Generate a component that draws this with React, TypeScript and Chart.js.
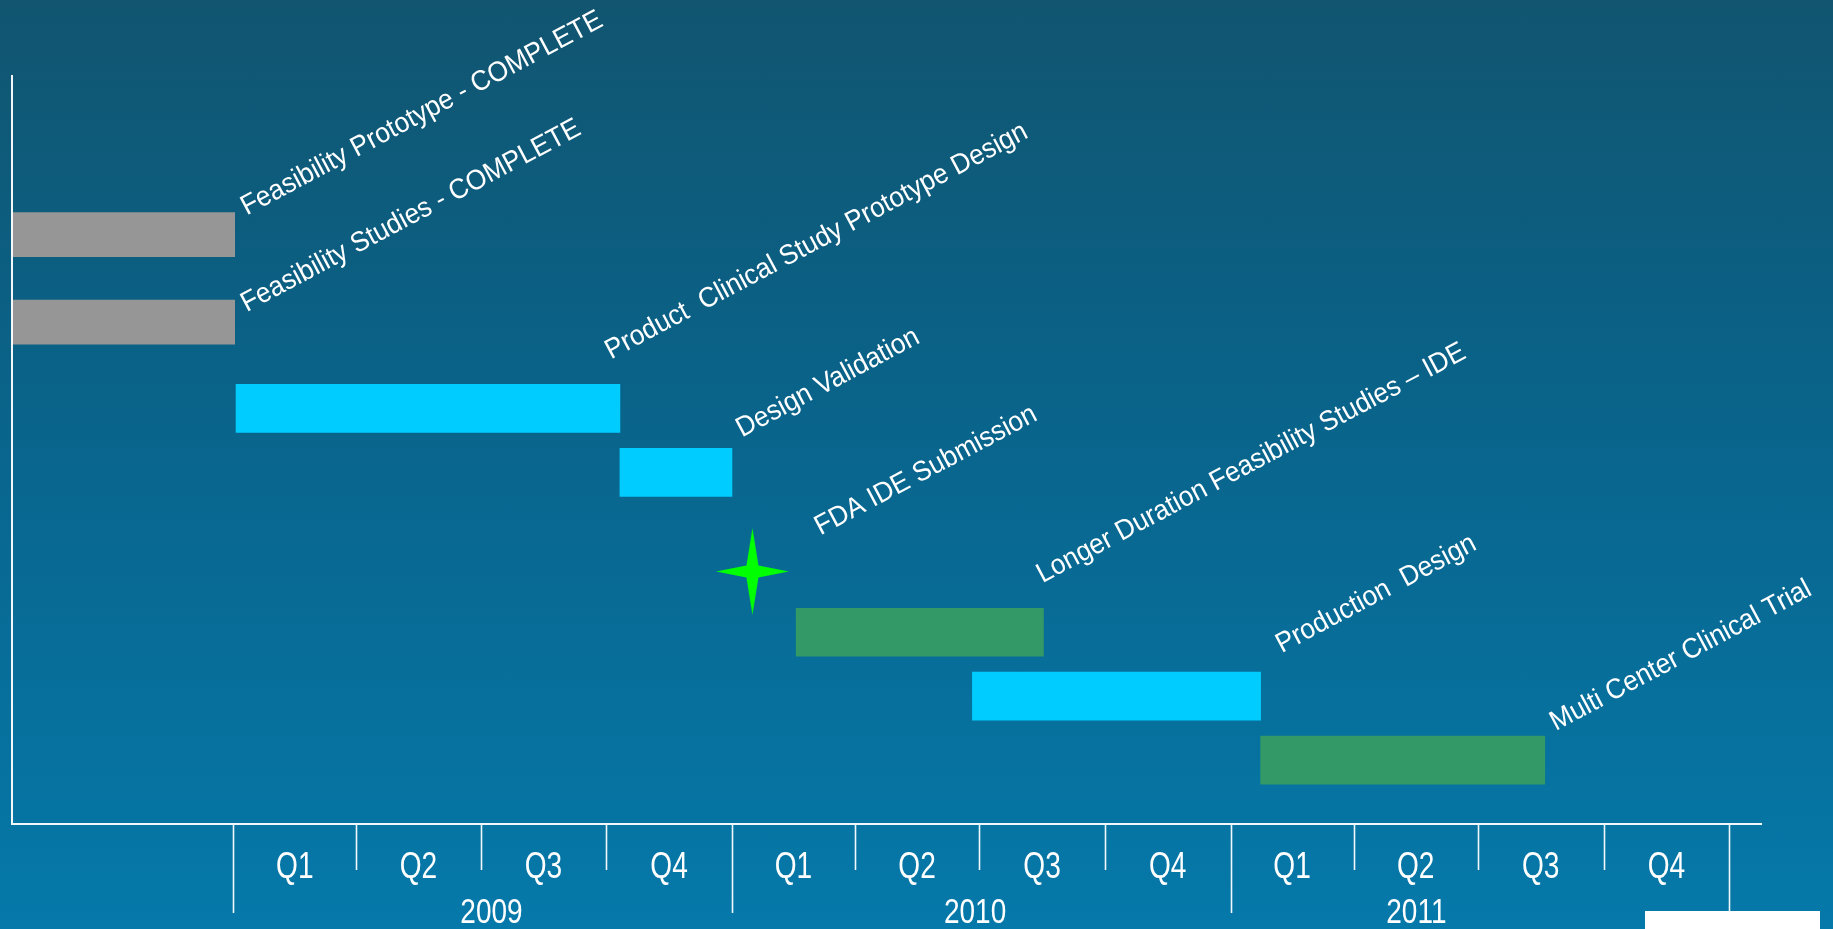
import React, { useEffect, useRef } from "react";
import { Chart, registerables } from "chart.js";

Chart.register(...registerables);

// ---------- data ----------
const axisStart = "2008-07-23";
const axisEnd = "2012-01-25";

const taskNames = [
  "Feasibility Prototype - COMPLETE",
  "Feasibility Studies - COMPLETE",
  "Product  Clinical Study Prototype Design",
  "Design Validation",
  "FDA IDE Submission",
  "Longer Duration Feasibility Studies \u2013 IDE",
  "Production  Design",
  "Multi Center Clinical Trial",
];
const taskStarts = [
  "2008-07-23",
  "2008-07-23",
  "2009-01-03",
  "2009-10-11",
  "2010-01-16",
  "2010-02-17",
  "2010-06-26",
  "2011-01-23",
];
const taskEnds = [
  "2009-01-02",
  "2009-01-02",
  "2009-10-11",
  "2010-01-01",
  "2010-01-16",
  "2010-08-17",
  "2011-01-23",
  "2011-08-19",
];
const taskLanes = [9.22, 7.85, 6.5, 5.5, 3.95, 3, 2, 1];
const taskKinds = ["complete", "complete", "design", "design", "milestone", "study", "design", "study"];

const quarterStarts = [
  "2009-01-01", "2009-04-01", "2009-07-01", "2009-10-01",
  "2010-01-01", "2010-04-01", "2010-07-01", "2010-10-01",
  "2011-01-01", "2011-04-01", "2011-07-01", "2011-10-01",
  "2012-01-01",
];
const quarterLabels = ["Q1", "Q2", "Q3", "Q4", "Q1", "Q2", "Q3", "Q4", "Q1", "Q2", "Q3", "Q4"];
const yearLabels = ["2009", "2010", "2011"];
const yearLabelAt = ["2009-07-09", "2010-06-28", "2011-05-17"];

// ---------- styles / layout ----------
const kindColors: Record<string, string> = {
  complete: "#969696",
  design: "#00ccff",
  study: "#339966",
  milestone: "#00ff00",
};
const kindThickness: Record<string, number> = { complete: 44, design: 48, study: 48 };
const labelNudge = [
  [12, -19],
  [12, -10],
  [-9, -49],
  [10, -35],
  [68, -36],
  [-1, -49],
  [21, -43],
  [11, -29],
];
const LABEL_ANGLE = 28;
const LABEL_SCALE_X = 0.94;
const FONT = '"Liberation Sans", Arial, sans-serif';

const dayOf = (iso: string) => {
  const [y, m, d] = iso.split("-").map(Number);
  return (Date.UTC(y, m - 1, d) - Date.UTC(2009, 0, 1)) / 86400000;
};

function makeStar(color: string) {
  const w = 73;
  const h = 87;
  const c = document.createElement("canvas");
  c.width = w;
  c.height = h;
  const g = c.getContext("2d")!;
  const cx = w / 2;
  const cy = h / 2;
  const r = 6;
  g.beginPath();
  g.moveTo(cx, 0);
  g.lineTo(cx + r, cy - r);
  g.lineTo(w, cy);
  g.lineTo(cx + r, cy + r);
  g.lineTo(cx, h);
  g.lineTo(cx - r, cy + r);
  g.lineTo(0, cy);
  g.lineTo(cx - r, cy - r);
  g.closePath();
  g.fillStyle = color;
  g.fill();
  return c;
}

const ganttDecor = {
  id: "ganttDecor",
  afterDraw(chart: any) {
    const { ctx, chartArea } = chart;
    const x = chart.scales.x;
    const y = chart.scales.y;
    ctx.save();

    // axis lines
    ctx.strokeStyle = "rgba(255,255,255,0.95)";
    ctx.lineWidth = 2;
    ctx.beginPath();
    ctx.moveTo(chartArea.left, chartArea.top - 1);
    ctx.lineTo(chartArea.left, chartArea.bottom);
    ctx.lineTo(chartArea.right, chartArea.bottom);
    ctx.stroke();

    // quarter / year tick lines
    ctx.lineWidth = 1.6;
    quarterStarts.forEach((q) => {
      const px = Math.round(x.getPixelForValue(dayOf(q))) + 0.5;
      const isYear = q.slice(5, 7) === "01";
      ctx.beginPath();
      ctx.moveTo(px, chartArea.bottom);
      ctx.lineTo(px, chartArea.bottom + (isYear ? 89 : 46));
      ctx.stroke();
    });

    // quarter labels
    ctx.fillStyle = "#ffffff";
    ctx.textAlign = "center";
    ctx.textBaseline = "alphabetic";
    ctx.font = "36px " + FONT;
    quarterLabels.forEach((lab, i) => {
      const a = x.getPixelForValue(dayOf(quarterStarts[i]));
      const b = x.getPixelForValue(dayOf(quarterStarts[i + 1]));
      ctx.save();
      ctx.translate((a + b) / 2, chartArea.bottom + 54);
      ctx.scale(0.78, 1);
      ctx.fillText(lab, 0, 0);
      ctx.restore();
    });

    // year labels
    ctx.font = "35px " + FONT;
    yearLabels.forEach((lab, i) => {
      const px = x.getPixelForValue(dayOf(yearLabelAt[i]));
      ctx.save();
      ctx.translate(px, chartArea.bottom + 99);
      ctx.scale(0.8, 1);
      ctx.fillText(lab, 0, 0);
      ctx.restore();
    });

    // task labels
    ctx.textAlign = "left";
    ctx.font = "28px " + FONT;
    taskNames.forEach((name, i) => {
      const px = x.getPixelForValue(dayOf(taskEnds[i]));
      const py = y.getPixelForValue(taskLanes[i]);
      const [dx, dy] = labelNudge[i];
      ctx.save();
      ctx.translate(px + dx, py + dy);
      ctx.rotate((-LABEL_ANGLE * Math.PI) / 180);
      ctx.scale(LABEL_SCALE_X, 1);
      ctx.fillText(name, 0, 0);
      ctx.restore();
    });

    ctx.restore();
  },
};

export default function App() {
  const canvasRef = useRef<HTMLCanvasElement | null>(null);

  useEffect(() => {
    if (!canvasRef.current) return;
    const barKinds = ["complete", "design", "study"];
    const datasets: any[] = barKinds.map((kind) => ({
      type: "bar",
      label: kind,
      data: taskNames
        .map((_, i) => i)
        .filter((i) => taskKinds[i] === kind)
        .map((i) => ({ x: [dayOf(taskStarts[i]), dayOf(taskEnds[i])], y: taskLanes[i] })),
      backgroundColor: kindColors[kind],
      borderWidth: 0,
      borderSkipped: false,
      barThickness: kindThickness[kind],
      grouped: false,
    }));
    const milestones = taskNames.map((_, i) => i).filter((i) => taskKinds[i] === "milestone");
    datasets.push({
      type: "scatter",
      label: "milestone",
      data: milestones.map((i) => ({ x: dayOf(taskStarts[i]), y: taskLanes[i] })),
      pointStyle: makeStar(kindColors.milestone),
      pointRadius: 10,
      showLine: false,
    });

    const chart = new Chart(canvasRef.current, {
      type: "bar",
      data: { datasets },
      options: {
        indexAxis: "y",
        responsive: false,
        maintainAspectRatio: false,
        animation: false,
        layout: { padding: { left: 12, right: 71, top: 76, bottom: 105 } },
        plugins: { legend: { display: false }, tooltip: { enabled: false } },
        scales: {
          x: { type: "linear", min: dayOf(axisStart), max: dayOf(axisEnd), display: false, offset: false },
          y: { type: "linear", min: 0, max: 11.7, display: false, offset: false },
        },
      } as any,
      plugins: [ganttDecor],
    });
    return () => chart.destroy();
  }, []);

  return (
    <div
      style={{
        position: "absolute",
        left: 0,
        top: 0,
        width: 1833,
        height: 929,
        overflow: "hidden",
        background: "linear-gradient(to bottom, #115570 0%, #0a6288 40%, #0579aa 100%)",
      }}
    >
      <canvas ref={canvasRef} width={1833} height={929} style={{ display: "block" }} />
      <div
        style={{
          position: "absolute",
          left: 1645,
          top: 911,
          width: 175,
          height: 18,
          background: "#ffffff",
        }}
      />
    </div>
  );
}
